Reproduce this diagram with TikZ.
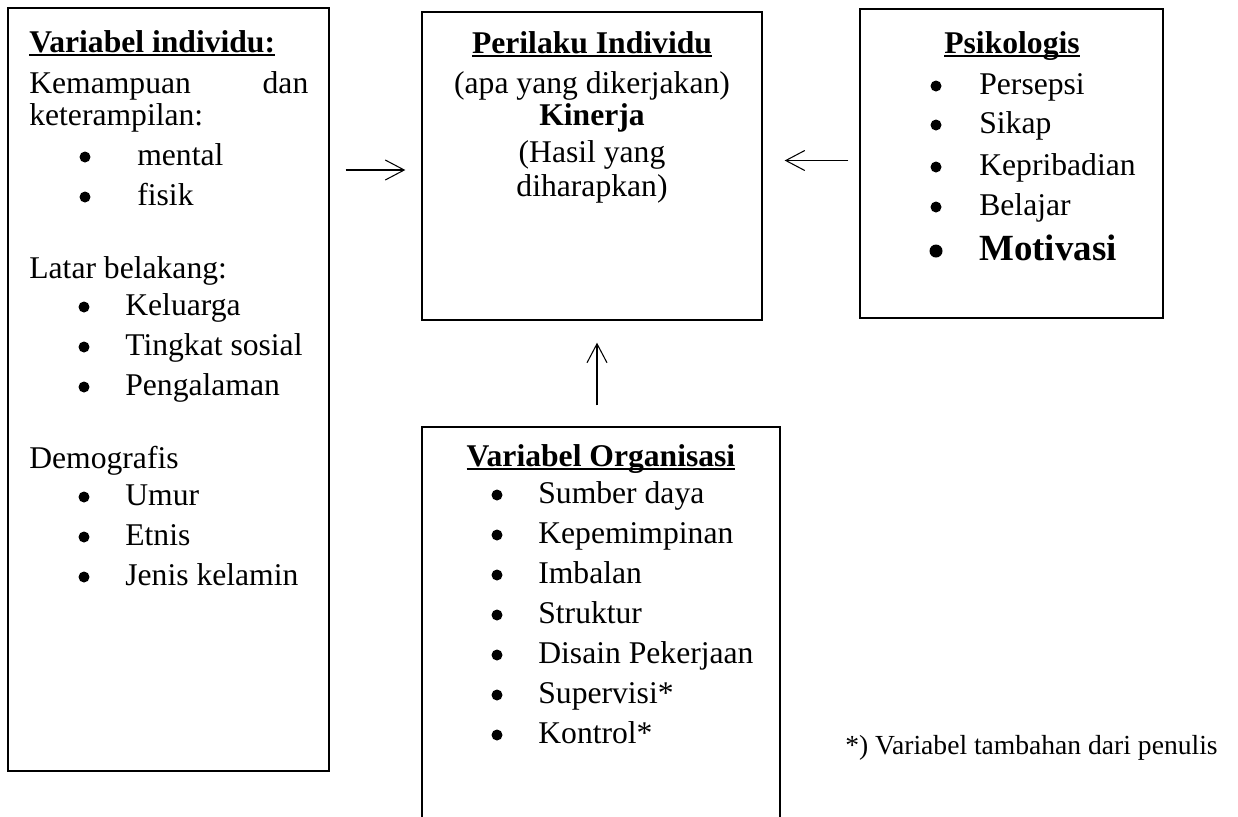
\documentclass[tikz,border=0pt]{standalone}
\usepackage{fontspec}
\setmainfont{Liberation Serif}
\usetikzlibrary{arrows.meta}
\newcommand\ulhead[1]{\setbox0\hbox{\bfseries #1}\rlap{\rule[-0.14em]{\wd0}{0.07em}}\box0}
\tikzset{
  box/.style={draw, rectangle, line width=0.8pt, inner sep=0pt},
  txt/.style={anchor=base west, inner sep=0pt, font=\fontsize{18}{21}\selectfont},
  ctxt/.style={txt, anchor=base},
  bul/.style={circle, fill, inner sep=0pt, minimum size=0.22cm, yshift=0.16cm},
  link/.style={-{Straight Barb[length=10.8pt,width=11.4pt]}, line width=0.6pt},
}
\begin{document}
\begin{tikzpicture}[x=0.02cm, y=-0.02cm]
\useasboundingbox (0,0) rectangle (1238,816);
\node[box, minimum width=6.42cm, minimum height=15.26cm] (indiv) at (168.5,389.5) {};
\node[box, minimum width=6.8cm, minimum height=6.16cm] (perilaku) at (592,166) {};
\node[box, minimum width=6.06cm, minimum height=6.18cm] (psiko) at (1011.5,163.5) {};
\node[box, minimum width=7.16cm, minimum height=9.2cm] (organ) at (601,657) {};

\node[txt] (indivhead) at (29,52) {\ulhead{Variabel individu:}};
\node[txt] (kemampuan) at (29,93) {\makebox[5.58cm][s]{Kemampuan dan}};
\node[txt] (keterampilan) at (29,125) {keterampilan:};
\foreach \y/\t in {165/mental, 205/fisik} {
  \node[bul] (ib\y) at (85,\y) {};
  \node[txt] (it\y) at (137,\y) {\t};
}
\node[txt] (latar) at (29,278) {Latar belakang:};
\foreach \y/\t in {315/Keluarga, 355/Tingkat sosial, 395/Pengalaman, 505/Umur, 545/Etnis, 585/Jenis kelamin} {
  \node[bul] (ib\y) at (84,\y) {};
  \node[txt] (it\y) at (125,\y) {\t};
}
\node[txt] (demografis) at (29,468) {Demografis};

\node[ctxt] (perhead) at (592,53) {\ulhead{Perilaku Individu}};
\node[ctxt] (perapa) at (592,93) {(apa yang dikerjakan)};
\node[ctxt, font=\fontsize{18}{21}\selectfont\bfseries] (kinerja) at (592,125) {Kinerja};
\node[ctxt] (hasil) at (592,162) {(Hasil yang};
\node[ctxt] (harap) at (592,196) {diharapkan)};

\node[ctxt] (psikhead) at (1012,53) {\ulhead{Psikologis}};
\foreach \y/\t in {94/Persepsi, 133/Sikap, 175/Kepribadian, 215/Belajar} {
  \node[bul] (pb\y) at (936,\y) {};
  \node[txt] (pt\y) at (979,\y) {\t};
}
\node[bul, minimum size=0.26cm] (pb260) at (936,259) {};
\node[txt, font=\fontsize{21}{24}\selectfont\bfseries] (pt260) at (979,260) {Motivasi};

\node[ctxt] (orghead) at (601,466) {\ulhead{Variabel Organisasi}};
\foreach \y/\t in {503/Sumber daya, 543/Kepemimpinan, 583/Imbalan, 623/Struktur, 663/Disain Pekerjaan, 703/Supervisi*, 743/Kontrol*} {
  \node[bul] (ob\y) at (497,\y) {};
  \node[txt] (ot\y) at (538,\y) {\t};
}

\node[txt, font=\fontsize{15.7}{18}\selectfont] (catatan) at (845,754) {*) Variabel tambahan dari penulis};

\draw[link, shorten <=0.32cm, shorten >=0.32cm] ([yshift=-0.08cm]indiv.east |- perilaku.west) -- ([yshift=-0.08cm]perilaku.west);
\draw[link, shorten <=0.22cm, shorten >=0.44cm] ([yshift=0.06cm]psiko.west) -- ([yshift=0.06cm]perilaku.east |- psiko.west);
\draw[link, shorten <=0.42cm, shorten >=0.44cm] ([xshift=-0.08cm]organ.north) -- ([xshift=-0.08cm]organ.north |- perilaku.south);
\end{tikzpicture}
\end{document}
